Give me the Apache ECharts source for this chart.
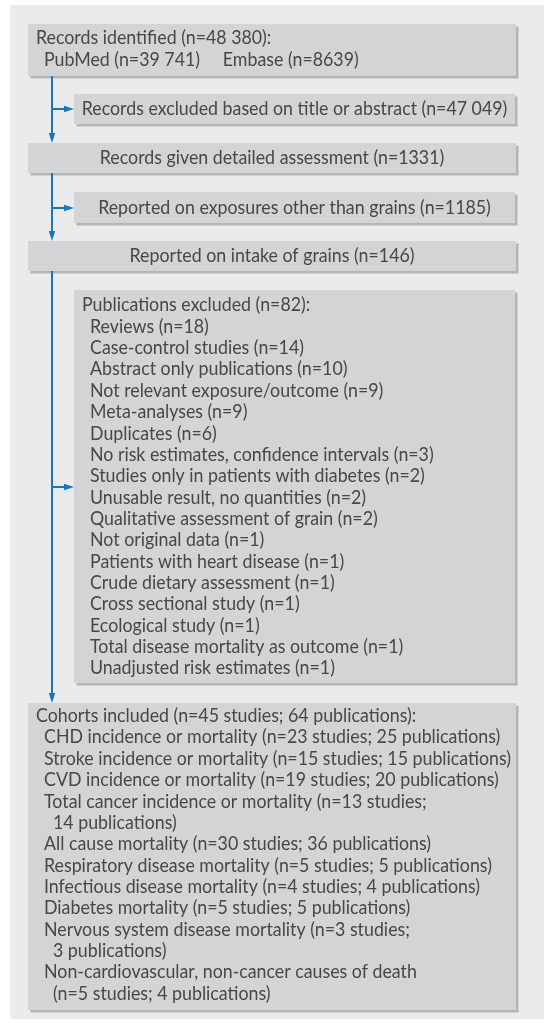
<!DOCTYPE html>
<html><head><meta charset="utf-8">
<script src="https://cdn.jsdelivr.net/npm/echarts@6/dist/echarts.min.js"></script>
<style>html,body{margin:0;padding:0;background:#fff}#c{width:544px;height:1023px}</style>
</head><body><div id="c"></div>
<script>
// ---- Content (text) ----
const box1Lines = ["Records identified (n=48 380):", "PubMed (n=39 741)     Embase (n=8639)"];
const box2Lines = ["Records excluded based on title or abstract (n=47 049)"];
const box3Lines = ["Records given detailed assessment (n=1331)"];
const box4Lines = ["Reported on exposures other than grains (n=1185)"];
const box5Lines = ["Reported on intake of grains (n=146)"];
const excludedHeader = "Publications excluded (n=82):";
const excludedItems = [
  "Reviews (n=18)", "Case-control studies (n=14)", "Abstract only publications (n=10)",
  "Not relevant exposure/outcome (n=9)", "Meta-analyses (n=9)", "Duplicates (n=6)",
  "No risk estimates, confidence intervals (n=3)", "Studies only in patients with diabetes (n=2)",
  "Unusable result, no quantities (n=2)", "Qualitative assessment of grain (n=2)",
  "Not original data (n=1)", "Patients with heart disease (n=1)", "Crude dietary assessment (n=1)",
  "Cross sectional study (n=1)", "Ecological study (n=1)", "Total disease mortality as outcome (n=1)",
  "Unadjusted risk estimates (n=1)"
];
const includedHeader = "Cohorts included (n=45 studies; 64 publications):";
// [text, continuation level]
const includedItems = [
  ["CHD incidence or mortality (n=23 studies; 25 publications)", 0],
  ["Stroke incidence or mortality (n=15 studies; 15 publications)", 0],
  ["CVD incidence or mortality (n=19 studies; 20 publications)", 0],
  ["Total cancer incidence or mortality (n=13 studies;", 0],
  ["14 publications)", 1],
  ["All cause mortality (n=30 studies; 36 publications)", 0],
  ["Respiratory disease mortality (n=5 studies; 5 publications)", 0],
  ["Infectious disease mortality (n=4 studies; 4 publications)", 0],
  ["Diabetes mortality (n=5 studies; 5 publications)", 0],
  ["Nervous system disease mortality (n=3 studies;", 0],
  ["3 publications)", 1],
  ["Non-cardiovascular, non-cancer causes of death", 0],
  ["(n=5 studies; 4 publications)", 1]
];

// ---- Layout (pixel units on a hidden 544x1023 axis system) ----
const FONT = 'Lato';
const canvasM = document.createElement('canvas').getContext('2d');
canvasM.font = '16px ' + FONT;
const refW = canvasM.measureText(box2Lines[0]).width;
const FS = Math.round(16 * 425 / refW * 10) / 10;
const TEXT_SCALE_Y = 1.12;
const LH = 21.35;
const COL = {panel:'#ebebee', box:'#d3d4d6', shadow:'#b5b5b8', text:'#474749', arrow:'#1b75bb'};

const boxes = [
  {x0:28, y0:24, x1:516, y1:76},
  {x0:74, y0:94, x1:515, y1:124},
  {x0:28, y0:143, x1:516, y1:173},
  {x0:74, y0:192, x1:515, y1:223},
  {x0:28, y0:241, x1:516, y1:271},
  {x0:74, y0:290, x1:515, y1:683},
  {x0:28, y0:703, x1:516, y1:1010}
];
// text lines: [text, x, y, align]
const texts = [];
texts.push([box1Lines[0], 36, 38, 'left']);
texts.push([box1Lines[1], 44, 60, 'left']);
texts.push([box2Lines[0], 294.5, 109, 'center']);
texts.push([box3Lines[0], 272, 158, 'center']);
texts.push([box4Lines[0], 294.5, 208, 'center']);
texts.push([box5Lines[0], 272, 256, 'center']);
texts.push([excludedHeader, 82, 305, 'left']);
excludedItems.forEach((t, i) => texts.push([t, 90, 305 + (i + 1) * LH, 'left']));
texts.push([includedHeader, 36, 715.7, 'left']);
includedItems.forEach((t, i) => texts.push([t[0], 44 + t[1] * 9, 715.7 + (i + 1) * LH, 'left']));

// arrows: [x0,y0,x1,y1]
const SX = 52;
const arrows = [
  [SX, 76, SX, 143], [SX, 109, 74, 109],
  [SX, 173, SX, 241], [SX, 208, 74, 208],
  [SX, 271, SX, 703], [SX, 487, 74, 487]
];

const chart = echarts.init(document.getElementById('c'), null, {renderer:'canvas'});
function arrowItem(params, api) {
  const p0 = api.coord([api.value(0), api.value(1)]);
  const p1 = api.coord([api.value(2), api.value(3)]);
  const dx = p1[0]-p0[0], dy = p1[1]-p0[1];
  const L = Math.hypot(dx, dy), ux = dx/L, uy = dy/L;
  const hl = 10, hw = 3.2;
  const bx = p1[0]-ux*hl, by = p1[1]-uy*hl;
  return {type:'group', children:[
    {type:'line', shape:{x1:p0[0], y1:p0[1], x2:bx, y2:by}, style:{stroke:COL.arrow, lineWidth:2}},
    {type:'polygon', shape:{points:[[p1[0],p1[1]],[bx - uy*hw, by + ux*hw],[bx + uy*hw, by - ux*hw]]}, style:{fill:COL.arrow}}
  ]};
}
chart.setOption({
  animation:false,
  grid:{left:0, right:0, top:0, bottom:0},
  xAxis:{type:'value', min:0, max:544, show:false},
  yAxis:{type:'value', min:0, max:1023, inverse:true, show:false},
  series:[
    {type:'custom', data:[[10,5,544,1019]], renderItem:(p, api) => {
      const a = api.coord([api.value(0), api.value(1)]), b = api.coord([api.value(2), api.value(3)]);
      return {type:'rect', shape:{x:a[0], y:a[1], width:b[0]-a[0], height:b[1]-a[1]}, style:{fill:COL.panel}};
    }},
    {type:'custom', data:boxes.map(b => [b.x0, b.y0, b.x1, b.y1]), renderItem:(p, api) => {
      const a = api.coord([api.value(0), api.value(1)]), b = api.coord([api.value(2), api.value(3)]);
      return {type:'group', children:[
        {type:'rect', shape:{x:a[0]+2.5, y:a[1]+2.5, width:b[0]-a[0], height:b[1]-a[1]}, style:{fill:COL.shadow}},
        {type:'rect', shape:{x:a[0], y:a[1], width:b[0]-a[0], height:b[1]-a[1]}, style:{fill:COL.box}}
      ]};
    }},
    {type:'custom', data:arrows, renderItem:arrowItem},
    {type:'custom', data:texts.map(t => [t[1], t[2], t[0], t[3]]), dimensions:['x','y','t','a'], renderItem:(p, api) => {
      const t = texts[p.dataIndex];
      const c = api.coord([t[1], t[2]]);
      return {type:'text', x:c[0], y:c[1], scaleY:TEXT_SCALE_Y, style:{text:t[0], fill:COL.text, font: FS + 'px ' + FONT, textAlign:t[3], textVerticalAlign:'middle'}};
    }}
  ]
});
</script></body></html>
